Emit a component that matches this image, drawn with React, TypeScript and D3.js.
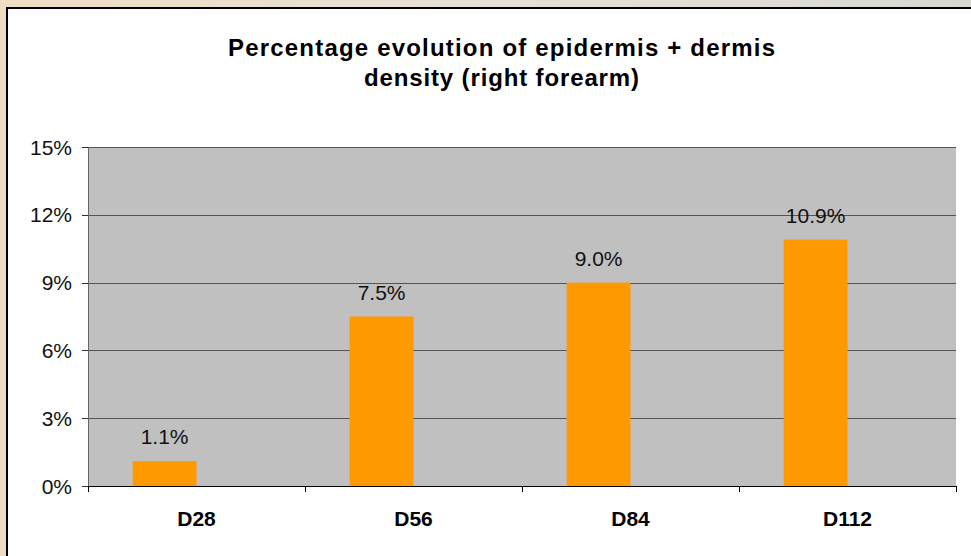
import React from "react";
import * as d3 from "d3";

const categories = ["D28", "D56", "D84", "D112"];
const values = [1.1, 7.5, 9.0, 10.9];
const yTicks = [0, 3, 6, 9, 12, 15];
const titleLines = ["Percentage evolution of epidermis + dermis", "density (right forearm)"];

const W = 971;
const H = 556;
const plot = { left: 88, right: 956, top: 147, bottom: 486 };
const FONT = "'Liberation Sans', Arial, Helvetica, sans-serif";

export default function App() {
  const x0 = d3.scaleBand<string>().domain(categories).range([plot.left, plot.right]).paddingInner(0).paddingOuter(0);
  const x1 = d3.scaleBand<string>().domain(["s1", "s2"]).range([0, x0.bandwidth()]).paddingInner(0).paddingOuter(0.7);
  const y = d3.scaleLinear().domain([0, 15]).range([plot.bottom, plot.top]);
  const fmt = (v: number) => v.toFixed(1) + "%";
  const bounds = [plot.left, ...categories.map((c) => (x0(c) as number) + x0.bandwidth())];

  return (
    <svg width={W} height={H} style={{ position: "absolute", left: 0, top: 0 }} fontFamily={FONT}>
      <defs>
        <linearGradient id="bg" x1="0" y1="0" x2="1" y2="0">
          <stop offset="0" stopColor="#efdcc4" />
          <stop offset="0.5" stopColor="#e6e1d6" />
          <stop offset="1" stopColor="#d8d8d2" />
        </linearGradient>
      </defs>
      <rect x={0} y={0} width={W} height={H} fill="url(#bg)" />
      <rect x={7} y={8} width={W + 10} height={H + 10} fill="#ffffff" stroke="#000000" strokeWidth={2} />

      {titleLines.map((t, i) => (
        <text
          key={t}
          x={501.5}
          y={56 + i * 30}
          textAnchor="middle"
          fontSize={24}
          fontWeight="bold"
          fill="#000"
          textLength={i === 0 ? 547 : 275}
          lengthAdjust="spacing"
        >
          {t}
        </text>
      ))}

      <rect x={plot.left} y={plot.top} width={plot.right - plot.left} height={plot.bottom - plot.top} fill="#c0c0c0" />

      {yTicks.filter((t) => t > 0).map((t) => (
        <line key={"g" + t} x1={plot.left} x2={plot.right} y1={Math.round(y(t)) + 0.5} y2={Math.round(y(t)) + 0.5} stroke="#555555" strokeWidth={1} />
      ))}

      {categories.map((c, i) => {
        const bx = (x0(c) as number) + (x1("s1") as number);
        const by = y(values[i]);
        return (
          <g key={c}>
            <rect x={bx} y={by} width={x1.bandwidth()} height={plot.bottom - by} fill="#ff9900" />
            <text x={bx + x1.bandwidth() / 2} y={by - 17} textAnchor="middle" fontSize={21} fill="#111">
              {fmt(values[i])}
            </text>
            <text x={(x0(c) as number) + x0.bandwidth() / 2} y={525.5} textAnchor="middle" fontSize={21} fontWeight="bold" fill="#000">
              {c}
            </text>
          </g>
        );
      })}

      <line x1={plot.left + 0.5} x2={plot.left + 0.5} y1={plot.top} y2={plot.bottom + 6} stroke="#666666" strokeWidth={1} />
      {yTicks.map((t) => (
        <g key={"t" + t}>
          <line x1={plot.left - 6} x2={plot.left} y1={Math.round(y(t)) + 0.5} y2={Math.round(y(t)) + 0.5} stroke="#333" strokeWidth={1} />
          <text x={72} y={y(t) + 7.5} textAnchor="end" fontSize={21} fill="#111">
            {t + "%"}
          </text>
        </g>
      ))}
      <line x1={plot.left} x2={plot.right + 0.5} y1={plot.bottom + 0.5} y2={plot.bottom + 0.5} stroke="#000" strokeWidth={1} />
      {bounds.map((b) => (
        <line key={"xb" + b} x1={Math.round(b) + 0.5} x2={Math.round(b) + 0.5} y1={plot.bottom} y2={plot.bottom + 6} stroke="#000" strokeWidth={1} />
      ))}
    </svg>
  );
}
